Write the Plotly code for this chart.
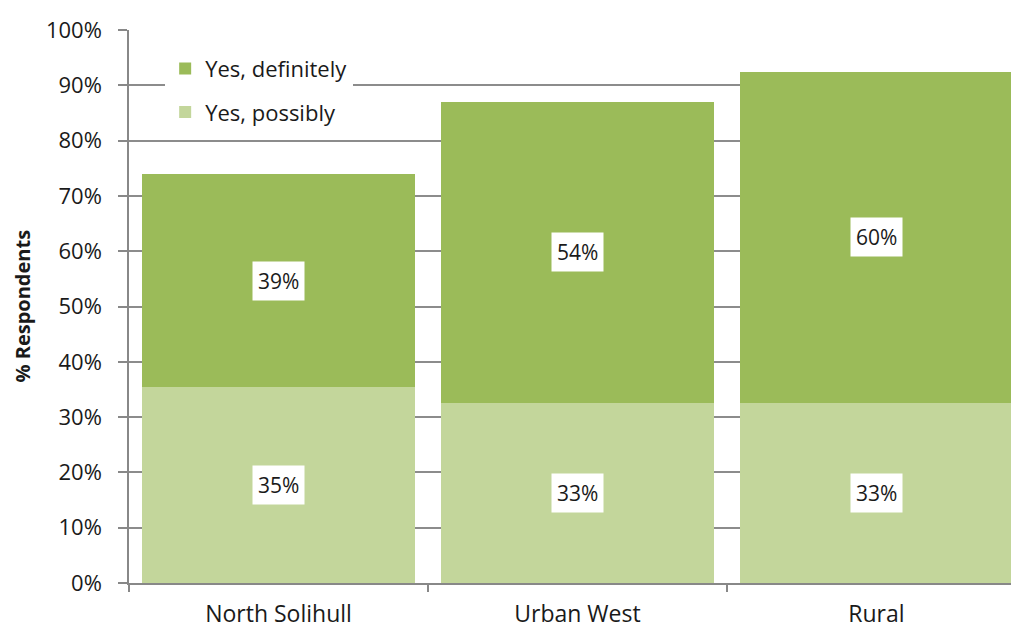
import plotly.graph_objects as go

categories = ["North Solihull", "Urban West", "Rural"]
possibly = [35.4, 32.6, 32.6]
definitely = [38.5, 54.4, 59.8]
possibly_labels = ["35%", "33%", "33%"]
definitely_labels = ["39%", "54%", "60%"]
y_ticks = list(range(0, 101, 10))

FONT = "'Open Sans', sans-serif"
TXT = "#1a1a1a"
C_DEF = "#9BBB59"
C_POS = "#C3D69B"

fig = go.Figure()
fig.add_trace(go.Bar(x=categories, y=possibly, name="Yes, possibly",
                     marker=dict(color=C_POS, line=dict(width=0)),
                     legendgroup="p", legendrank=2))
fig.add_trace(go.Bar(x=categories, y=definitely, name="Yes, definitely",
                     marker=dict(color=C_DEF, line=dict(width=0)),
                     legendgroup="d", legendrank=1))

annotations = []
for c, p, d, pl, dl in zip(categories, possibly, definitely, possibly_labels, definitely_labels):
    annotations.append(dict(x=c, y=p / 2, text=pl, showarrow=False, bgcolor="white",
                            font=dict(size=21, color=TXT, family=FONT), borderpad=5))
    annotations.append(dict(x=c, y=p + d / 2, text=dl, showarrow=False, bgcolor="white",
                            font=dict(size=21, color=TXT, family=FONT), borderpad=5))

annotations.append(dict(x=0, xshift=-107, xref="paper", xanchor="center", y=0.5, yref="paper",
                        text="<b>% Respondents</b>", textangle=-90, showarrow=False,
                        font=dict(size=20, color=TXT, family=FONT)))

fig.update_layout(
    width=1011, height=628,
    margin=dict(l=129, r=0, t=30, b=45, autoexpand=False),
    paper_bgcolor="white", plot_bgcolor="white",
    barmode="stack", bargap=0.09,
    font=dict(family=FONT, size=21, color=TXT),
    annotations=annotations,
    legend=dict(x=0.041, y=0.968, xanchor="left", yanchor="top",
                bgcolor="white", traceorder="grouped", tracegroupgap=12,
                font=dict(size=22, family=FONT, color=TXT)),
    xaxis=dict(range=[-0.5, 2.45], showline=True, linecolor="#888888", linewidth=1.5,
               ticks="outside", tickson="boundaries", ticklen=7, tickcolor="#888888",
               tickwidth=1.5, showgrid=False, tickfont=dict(size=23), automargin=False,
               ticklabelstandoff=10),
    yaxis=dict(range=[0, 100], tickvals=y_ticks, ticktext=[f"{v}%" for v in y_ticks],
               showline=True, linecolor="#888888", linewidth=1.5,
               ticks="outside", ticklen=9, tickcolor="#888888", tickwidth=1.5,
               showgrid=True, gridcolor="#8c8c8c", gridwidth=1.5, zeroline=False,
               ticklabelstandoff=12,
               tickfont=dict(size=22), automargin=False),
)

fig.write_html(
    "out.html",
    config={"displayModeBar": False},
    post_script="document.body.style.margin='0';document.body.style.overflow='hidden';",
)
